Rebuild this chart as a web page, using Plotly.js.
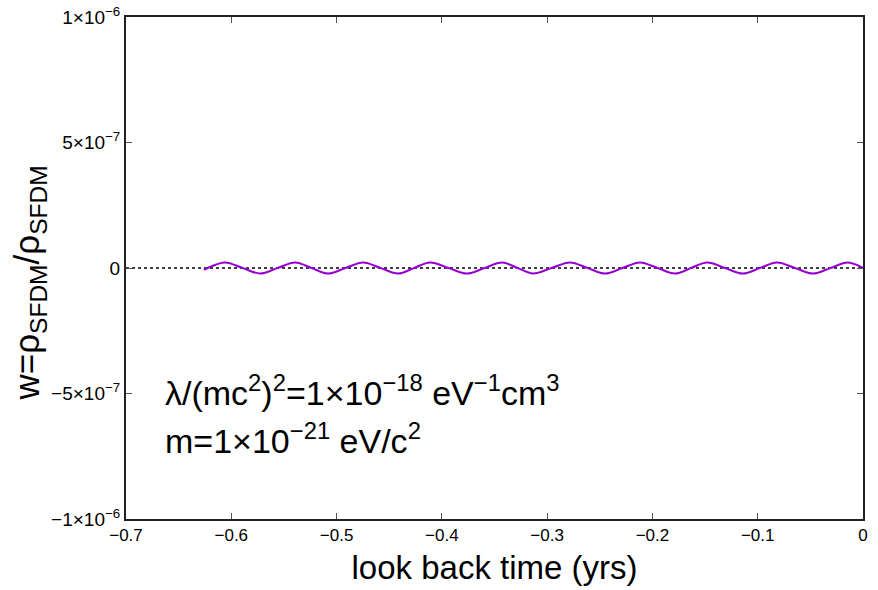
<!DOCTYPE html>
<html>
<head>
<meta charset="utf-8">
<script src="https://cdn.plot.ly/plotly-3.0.1.min.js"></script>
<style>html,body{margin:0;padding:0;background:#fff;}#chart{width:878px;height:590px;}</style>
</head>
<body>
<div id="chart"></div>
<script>
// Values (look back time in yrs, w)
const startX = -0.626, startY = -0.8e-8;
const firstZeroX = -0.6223;
const extremaX = [-0.6059, -0.5726, -0.5394, -0.5081, -0.4748, -0.4416, -0.4112, -0.3761, -0.3428,
                  -0.3134, -0.2783, -0.2450, -0.2118, -0.1785, -0.1481, -0.1140, -0.0817, -0.0475, -0.0142];
const extremaY = [2.2e-8, -2.2e-8, 2.2e-8, -2.2e-8, 2.2e-8, -2.2e-8, 2.2e-8, -2.2e-8, 2.2e-8,
                  -2.2e-8, 2.2e-8, -2.2e-8, 2.2e-8, -2.2e-8, 2.2e-8, -2.2e-8, 2.2e-8, -2.2e-8, 2.2e-8];
const endX = 0.0, endY = 0.0;

const zeroLineX = [-0.7, 0];
const zeroLineY = [0, 0];

const xTickVals = [-0.7, -0.6, -0.5, -0.4, -0.3, -0.2, -0.1, 0];
const xTickText = ['\u22120.7', '\u22120.6', '\u22120.5', '\u22120.4', '\u22120.3', '\u22120.2', '\u22120.1', '0'];
const yTickVals = [-1e-6, -5e-7, 0, 5e-7, 1e-6];
const yTickText = ['\u22121\u00d710<sup>\u22126</sup>', '\u22125\u00d710<sup>\u22127</sup>', '0', '5\u00d710<sup>\u22127</sup>', '1\u00d710<sup>\u22126</sup>'];

// wave path: start, zero crossing, then extrema with zero crossings between them
const waveX = [startX, firstZeroX];
const waveY = [startY, 0];
for (let i = 0; i < extremaX.length; i++) {
  waveX.push(extremaX[i]); waveY.push(extremaY[i]);
  if (i < extremaX.length - 1) {
    waveX.push((extremaX[i] + extremaX[i + 1]) / 2); waveY.push(0);
  }
}
waveX.push(endX); waveY.push(endY);

const font = 'Liberation Sans, Arial, Helvetica, sans-serif';

const data = [
  {x: zeroLineX, y: zeroLineY, mode: 'lines', line: {color: '#000', width: 1.4, dash: 'dot'}, hoverinfo: 'skip'},
  {x: waveX, y: waveY, mode: 'lines', line: {color: '#9400d3', width: 2, shape: 'spline', smoothing: 1.0}}
];

const layout = {
  width: 878, height: 590,
  margin: {l: 126, r: 15, t: 17, b: 71},
  paper_bgcolor: '#fff', plot_bgcolor: '#fff',
  showlegend: false,
  font: {family: font, color: '#000', size: 17},
  xaxis: {
    range: [-0.7, 0], tickvals: xTickVals, ticktext: xTickText,
    ticks: 'inside', ticklen: 6, tickwidth: 1, tickcolor: '#555',
    showline: true, linecolor: '#222', linewidth: 2, mirror: 'ticks',
    showgrid: false, zeroline: false,
    tickfont: {size: 17, family: font, color: '#000'},
    title: {text: 'look back time (yrs)', font: {size: 33, family: font}, standoff: 11}
  },
  yaxis: {
    range: [-1e-6, 1e-6], tickvals: yTickVals, ticktext: yTickText,
    ticks: 'inside', ticklen: 6, tickwidth: 1, tickcolor: '#555',
    showline: true, linecolor: '#222', linewidth: 2, mirror: 'ticks',
    showgrid: false, zeroline: false,
    tickfont: {size: 19, family: font, color: '#000'}
  },
  annotations: [
    {xref: 'paper', yref: 'paper', x: -0.131, y: 0.47, xanchor: 'center', yanchor: 'middle', showarrow: false,
     textangle: -90,
     text: 'w=\u03c1<sub>SFDM</sub>/\u03c1<sub>SFDM</sub>',
     font: {size: 35, family: font, color: '#000'}},
    {xref: 'paper', yref: 'paper', x: 0.05, y: 0.255, xanchor: 'left', yanchor: 'middle', showarrow: false,
     text: '\u03bb/(mc<sup>2</sup>)<sup>2</sup>=1\u00d710<sup>\u221218</sup> eV<sup>\u22121</sup>cm<sup>3</sup>',
     font: {size: 34, family: font, color: '#000'}},
    {xref: 'paper', yref: 'paper', x: 0.05, y: 0.16, xanchor: 'left', yanchor: 'middle', showarrow: false,
     text: 'm=1\u00d710<sup>\u221221</sup> eV/c<sup>2</sup>',
     font: {size: 34, family: font, color: '#000'}}
  ]
};

Plotly.newPlot('chart', data, layout, {displayModeBar: false, staticPlot: true});
</script>
</body>
</html>
